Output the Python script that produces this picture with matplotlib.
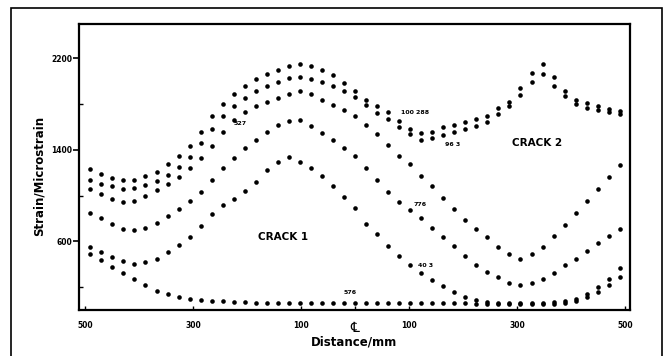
import numpy as np
import matplotlib
matplotlib.use('Agg')
import matplotlib.pyplot as plt
from matplotlib.patches import Rectangle

# distance along the beam (mm) at each gauge reading
distance = np.linspace(-490, 490, 49)

# strain readings (microstrain), one list per load stage
strain_a = [1230, 1190, 1150, 1140, 1140, 1170, 1210, 1280, 1350, 1430,
            1560, 1700, 1800, 1890, 1960, 2020, 2060, 2100, 2130, 2150,
            2130, 2100, 2050, 1980, 1910, 1840, 1780, 1730, 1650, 1580,
            1550, 1560, 1600, 1620, 1640, 1670, 1700, 1770, 1820, 1940,
            2070, 2150, 2040, 1910, 1840, 1810, 1780, 1760, 1740]
strain_b = [1140, 1100, 1080, 1060, 1070, 1090, 1130, 1180, 1250, 1340,
            1460, 1580, 1700, 1780, 1850, 1910, 1960, 1990, 2030, 2040,
            2020, 1990, 1960, 1910, 1860, 1790, 1720, 1670, 1600, 1540,
            1490, 1500, 1530, 1560, 1580, 1610, 1640, 1710, 1780, 1880,
            1990, 2060, 1960, 1870, 1800, 1770, 1750, 1730, 1710]
strain_c = [1060, 1010, 970, 940, 950, 1000, 1050, 1100, 1160, 1240,
            1330, 1430, 1560, 1660, 1730, 1780, 1820, 1850, 1890, 1910,
            1890, 1840, 1790, 1750, 1700, 1620, 1540, 1440, 1350, 1280,
            1170, 1080, 980, 880, 790, 710, 640, 550, 490, 450,
            490, 550, 650, 740, 850, 950, 1060, 1160, 1270]
strain_d = [850, 800, 750, 710, 700, 720, 760, 820, 880, 950,
            1030, 1140, 1240, 1330, 1420, 1490, 1560, 1620, 1650, 1660,
            1610, 1550, 1490, 1420, 1350, 1240, 1140, 1030, 940, 870,
            800, 720, 640, 560, 470, 390, 330, 290, 240, 220,
            240, 270, 320, 390, 450, 520, 590, 650, 710]
strain_e = [550, 510, 460, 430, 400, 420, 450, 510, 570, 640,
            730, 840, 920, 970, 1040, 1120, 1220, 1290, 1340, 1290,
            1240, 1170, 1080, 990, 890, 750, 660, 560, 470, 390,
            320, 260, 210, 160, 110, 90, 70, 60, 60, 60,
            60, 60, 70, 80, 100, 140, 200, 270, 370]
strain_f = [490, 440, 380, 320, 270, 220, 170, 140, 110, 100,
            90, 80, 80, 70, 70, 60, 60, 60, 60, 60,
            60, 60, 60, 60, 60, 60, 60, 60, 60, 60,
            60, 60, 60, 60, 60, 50, 50, 50, 50, 50,
            50, 50, 50, 60, 80, 110, 160, 220, 290]

# stage numbers written beside the curves
stage_text = ['527', '100 288', '96 3', '776', '40 3', '576']
stage_x = [-213, 111, 180, 120, 131, -9]
stage_y = [1626, 1730, 1451, 918, 393, 149]

xticks = [-500, -300, -100, 0, 100, 300, 500]
xtick_labels = ['500', '300', '100', '', '100', '300', '500']
yticks = [600, 1400, 2200]
yticks_minor = [200, 1000, 1800]

plt.rcParams['font.family'] = ['DejaVu Sans']

fig = plt.figure(figsize=(6.67, 3.56), dpi=100)
fig.patch.set_facecolor('white')

# outer border of the figure panel
fig.patches.append(Rectangle((11 / 667, -0.1), 651 / 667, 1.1 - 8 / 356,
                             transform=fig.transFigure, fill=False,
                             edgecolor='k', linewidth=1.2))

ax = fig.add_axes([79 / 667, 1 - 310 / 356, 551 / 667, 286 / 356])

for s in [strain_a, strain_b, strain_c, strain_d, strain_e, strain_f]:
    ax.plot(distance, s, linestyle='none', marker='o', markersize=3.3,
            color='k', markeredgewidth=0)

for t, x, y in zip(stage_text, stage_x, stage_y):
    ax.text(x, y, t, fontsize=4.5, fontweight='bold', ha='center', va='center')

ax.text(-133, 638, 'CRACK 1', fontsize=7.5, fontweight='bold', ha='center', va='center')
ax.text(337, 1460, 'CRACK 2', fontsize=7.5, fontweight='bold', ha='center', va='center')

ax.set_xlim(-511, 509)
ax.set_ylim(0, 2500)

'''axis frame'''
for side in ['bottom', 'left', 'top', 'right']:
    ax.spines[side].set_linewidth(1.6)
    ax.spines[side].set_color('k')

ax.set_xticks(xticks)
ax.set_xticklabels(xtick_labels, fontsize=5.5, fontweight='bold')
ax.set_yticks(yticks)
ax.set_yticklabels(yticks, fontsize=5.5, fontweight='bold')
ax.set_yticks(yticks_minor, minor=True)
ax.tick_params(axis='x', direction='in', length=3, width=1, pad=8)
ax.tick_params(axis='y', direction='out', length=4, width=1.2, pad=1)
ax.tick_params(axis='y', which='minor', direction='in', length=3, width=1)

# centre line mark below the axis
ax.text(0, -0.04, '\u2104', transform=ax.get_xaxis_transform(), fontsize=10,
        ha='center', va='top')

ax.set_xlabel('Distance/mm', fontsize=8.5, fontweight='bold', labelpad=4)
ax.set_ylabel('Strain/Microstrain', fontsize=8.5, fontweight='bold', labelpad=0)
ax.yaxis.set_label_coords(-0.06, 0.47)

fig.savefig('out.png', dpi=100, facecolor='white')
plt.close()
